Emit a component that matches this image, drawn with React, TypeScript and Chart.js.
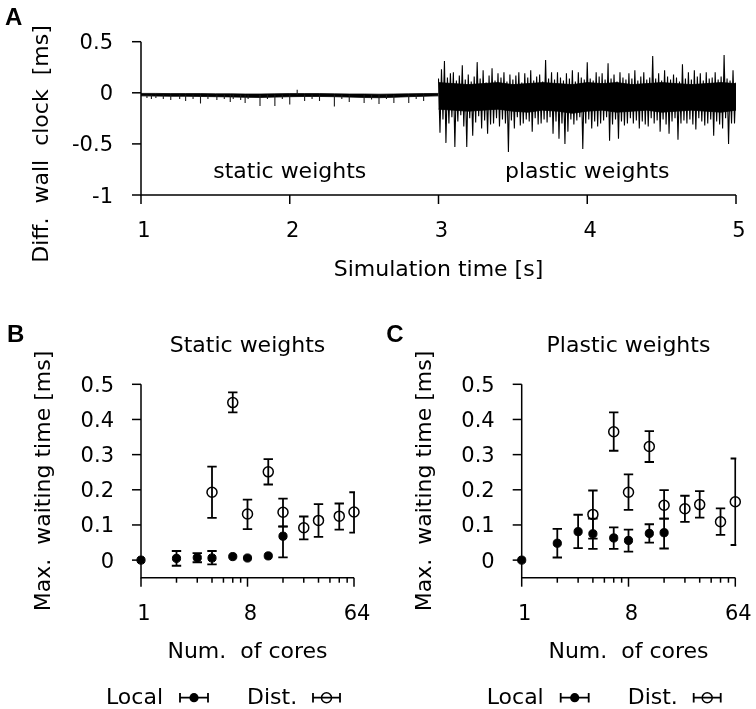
import { useEffect, useRef } from "react";
import { Chart, registerables } from "chart.js";
Chart.register(...registerables);

// ---------- Panel A: wall-clock difference trace ----------
// static phase: dense core (envelope every 0.1 s) plus isolated spikes
const bandStep = 0.1;
const staticStart = 1.0;
const staticBandHigh = [
  -0.006, -0.006, -0.008, -0.008, -0.008, -0.01, -0.01, -0.012, -0.012, -0.01, -0.008,
  -0.008, -0.008, -0.01, -0.012, -0.012, -0.014, -0.012, -0.01, -0.008, -0.006,
];
const staticBandLow = [
  -0.03, -0.032, -0.034, -0.034, -0.036, -0.038, -0.04, -0.044, -0.046, -0.042, -0.038,
  -0.036, -0.036, -0.038, -0.042, -0.046, -0.048, -0.044, -0.038, -0.034, -0.03,
];
const staticSpikeBase = -0.02;
const staticSpikeTimes = [
  1.04, 1.07, 1.1, 1.15, 1.2, 1.26, 1.3, 1.35, 1.4, 1.45,
  1.51, 1.56, 1.6, 1.62, 1.67, 1.7, 1.72, 1.8, 1.85, 1.9,
  1.95, 2.0, 2.05, 2.1, 2.15, 2.2, 2.3, 2.35, 2.4, 2.5,
  2.55, 2.6, 2.65, 2.7, 2.8, 2.85, 2.9,
];
const staticSpikeValues = [
  -0.05, -0.06, -0.05, -0.06, -0.07, -0.06, -0.08, -0.06, -0.105, -0.06,
  -0.07, -0.06, -0.09, -0.06, -0.07, -0.1, -0.06, -0.13, -0.06, -0.13,
  -0.06, -0.115, 0.03, -0.08, -0.06, -0.08, -0.135, -0.06, -0.09, -0.1,
  -0.065, -0.11, -0.06, -0.1, -0.1, -0.06, -0.08,
];
// plastic phase: sampled every 0.01 s
const plasticStart = 3.0;
const plasticStep = 0.01;
const plasticTrace = [
  0.14, -0.39, 0.23, -0.26, 0.31, -0.49, 0.15, -0.3, 0.19, -0.24,
  0.2, -0.53, 0.12, -0.28, 0.17, -0.22, 0.27, -0.33, 0.13, -0.53,
  0.18, -0.25, 0.11, -0.42, 0.16, -0.29, 0.3, -0.23, 0.14, -0.35,
  0.22, -0.27, 0.1, -0.4, 0.17, -0.31, 0.24, -0.3, 0.12, -0.25,
  0.19, -0.33, 0.15, -0.26, 0.2, -0.3, 0.11, -0.58, 0.18, -0.27,
  0.13, -0.35, 0.17, -0.24, 0.2, -0.32, 0.1, -0.3, 0.19, -0.26,
  0.15, -0.28, 0.22, -0.38, 0.12, -0.25, 0.16, -0.31, 0.18, -0.3,
  0.11, -0.26, 0.32, -0.29, 0.14, -0.24, 0.2, -0.4, 0.13, -0.28,
  0.2, -0.45, 0.15, -0.3, 0.12, -0.5, 0.19, -0.38, 0.14, -0.26,
  0.22, -0.31, 0.11, -0.27, 0.2, -0.24, 0.15, -0.55, 0.13, -0.3,
  0.3, -0.26, 0.14, -0.35, 0.12, -0.28, 0.2, -0.33, 0.16, -0.3,
  0.19, -0.27, 0.13, -0.24, 0.29, -0.47, 0.14, -0.31, 0.18, -0.26,
  0.11, -0.45, 0.2, -0.28, 0.15, -0.32, 0.13, -0.3, 0.19, -0.25,
  0.14, -0.3, 0.22, -0.27, 0.12, -0.35, 0.16, -0.28, 0.2, -0.31,
  0.13, -0.33, 0.15, -0.25, 0.36, -0.3, 0.14, -0.27, 0.19, -0.38,
  0.12, -0.26, 0.22, -0.31, 0.16, -0.4, 0.13, -0.28, 0.18, -0.25,
  0.15, -0.46, 0.11, -0.3, 0.28, -0.27, 0.14, -0.3, 0.2, -0.26,
  0.13, -0.31, 0.22, -0.36, 0.16, -0.25, 0.19, -0.28, 0.12, -0.32,
  0.2, -0.3, 0.14, -0.26, 0.15, -0.42, 0.2, -0.28, 0.13, -0.31,
  0.16, -0.35, 0.37, -0.25, 0.14, -0.5, 0.12, -0.3, 0.22, -0.3,
  0.1,
];
const plasticBandHigh = [
  0.1, 0.09, 0.08, 0.09, 0.1, 0.08, 0.09, 0.1, 0.09, 0.08, 0.1,
  0.09, 0.1, 0.08, 0.09, 0.1, 0.09, 0.08, 0.09, 0.1, 0.09,
];
const plasticBandLow = [
  -0.16, -0.17, -0.18, -0.17, -0.16, -0.18, -0.19, -0.17, -0.18, -0.2, -0.18,
  -0.17, -0.19, -0.18, -0.17, -0.19, -0.18, -0.17, -0.18, -0.19, -0.17,
];
const timeTicks = [1, 2, 3, 4, 5];
const diffTicks = [-1, -0.5, 0, 0.5];
const diffTickLabels = ["-1", "-0.5", "0", "0.5"];

// ---------- Panels B and C: max waiting time ----------
const coresLocal = [1, 2, 3, 4, 6, 8, 12, 16];
const coresDist = [4, 6, 8, 12, 16, 24, 32, 48, 64];

const staticLocalMean = [0, 0.005, 0.007, 0.006, 0.01, 0.006, 0.012, 0.068];
const staticLocalLo = [0, -0.016, -0.006, -0.012, 0.01, 0.006, 0.012, 0.008];
const staticLocalHi = [0, 0.026, 0.02, 0.026, 0.01, 0.006, 0.012, 0.096];
const staticDistMean = [0.193, 0.448, 0.131, 0.251, 0.136, 0.092, 0.113, 0.125, 0.137];
const staticDistLo = [0.12, 0.42, 0.088, 0.215, 0.095, 0.059, 0.066, 0.087, 0.078];
const staticDistHi = [0.266, 0.477, 0.172, 0.287, 0.175, 0.124, 0.159, 0.161, 0.193];

const plasticLocalMean = [0, 0.048, 0.081, 0.075, 0.063, 0.056, 0.076, 0.078];
const plasticLocalLo = [0, 0.0075, 0.034, 0.032, 0.032, 0.024, 0.05, 0.033];
const plasticLocalHi = [0, 0.089, 0.129, 0.118, 0.093, 0.087, 0.102, 0.118];
const plasticDistMean = [0.13, 0.365, 0.193, 0.323, 0.156, 0.146, 0.158, 0.109, 0.166];
const plasticDistLo = [0.061, 0.311, 0.143, 0.279, 0.118, 0.109, 0.121, 0.072, 0.043];
const plasticDistHi = [0.198, 0.42, 0.244, 0.367, 0.199, 0.183, 0.196, 0.147, 0.289];

const coreMajorTicks = [1, 8, 64];
const coreMajorLabels = ["1", "8", "64"];
const coreMinorTicks = [2, 3, 4, 5, 6, 7, 16, 24, 32, 40, 48, 56];
const waitTicks = [0, 0.1, 0.2, 0.3, 0.4, 0.5];
const waitTickLabels = ["0", "0.1", "0.2", "0.3", "0.4", "0.5"];

// ---------- styling ----------
const FONT = '"DejaVu Sans", sans-serif';
const TICK_FONT = `21px ${FONT}`;
const LABEL_FONT = `22px ${FONT}`;
const LETTER_FONT = `bold 24px "Liberation Sans", Arial, sans-serif`;
const BAR_W = 1.8;
const CAP = 4.7;

function text(ctx: any, s: string, x: number, y: number, font: string, align: any = "center") {
  ctx.font = font;
  ctx.textAlign = align;
  ctx.textBaseline = "alphabetic";
  ctx.fillText(s, x, y);
}

function vText(ctx: any, s: string, x: number, y: number, font: string) {
  ctx.save();
  ctx.translate(x, y);
  ctx.rotate(-Math.PI / 2);
  text(ctx, s, 0, 0, font, "center");
  ctx.restore();
}

const panelAPlugin = {
  id: "panelA",
  afterDraw(chart: any) {
    const { ctx, chartArea: a, scales } = chart;
    const xs = scales.x, ys = scales.y;
    ctx.save();
    ctx.strokeStyle = "#000";
    ctx.fillStyle = "#000";
    ctx.lineWidth = 1.5;
    ctx.beginPath();
    ctx.moveTo(a.left, a.top);
    ctx.lineTo(a.left, a.bottom);
    ctx.lineTo(a.right, a.bottom);
    ctx.stroke();
    diffTicks.forEach((v, i) => {
      const y = ys.getPixelForValue(v);
      ctx.beginPath();
      ctx.moveTo(a.left - 9, y);
      ctx.lineTo(a.left, y);
      ctx.stroke();
      text(ctx, diffTickLabels[i], a.left - 28, y + 7.5, TICK_FONT, "right");
    });
    timeTicks.forEach((v) => {
      const x = xs.getPixelForValue(v);
      ctx.beginPath();
      ctx.moveTo(x, a.bottom);
      ctx.lineTo(x, a.bottom + 9);
      ctx.stroke();
      text(ctx, String(v), x + 3, a.bottom + 42, TICK_FONT);
    });
    text(ctx, "Simulation time [s]", (a.left + a.right) / 2, a.bottom + 81, LABEL_FONT);
    vText(ctx, "Diff.  wall  clock  [ms]", a.left - 93, 144, LABEL_FONT);
    text(ctx, "static weights", xs.getPixelForValue(2), ys.getPixelForValue(-0.83), LABEL_FONT);
    text(ctx, "plastic weights", xs.getPixelForValue(4), ys.getPixelForValue(-0.83), LABEL_FONT);
    text(ctx, "A", 5, 25, LETTER_FONT, "left");
    ctx.restore();
  },
};

function drawLegendSym(ctx: any, x1: number, x2: number, y: number, filled: boolean) {
  ctx.beginPath();
  ctx.moveTo(x1, y);
  ctx.lineTo(x2, y);
  ctx.moveTo(x1, y - CAP);
  ctx.lineTo(x1, y + CAP);
  ctx.moveTo(x2, y - CAP);
  ctx.lineTo(x2, y + CAP);
  ctx.stroke();
  const cx = (x1 + x2) / 2;
  ctx.beginPath();
  if (filled) {
    ctx.arc(cx, y, 4.6, 0, Math.PI * 2);
    ctx.fill();
  } else {
    ctx.lineWidth = 1.5;
    ctx.arc(cx, y, 5, 0, Math.PI * 2);
    ctx.stroke();
  }
}

function makeWaitPlugin(title: string, letter: string, letterDx: number) {
  return {
    id: "wait" + letter,
    beforeDatasetsDraw(chart: any) {
      const { ctx, chartArea: a, scales } = chart;
      ctx.save();
      ctx.beginPath();
      ctx.rect(0, 0, a.right + 1, chart.height);
      ctx.clip();
      ctx.strokeStyle = "#000";
      ctx.lineWidth = BAR_W;
      chart.data.datasets.forEach((ds: any) => {
        if (!ds.errLo) return;
        ds.data.forEach((p: any, i: number) => {
          const lo = ds.errLo[i], hi = ds.errHi[i];
          if (hi - lo < 0.002) return;
          const x = scales.x.getPixelForValue(p.x);
          const y1 = scales.y.getPixelForValue(lo);
          const y2 = scales.y.getPixelForValue(hi);
          ctx.beginPath();
          ctx.moveTo(x, y1);
          ctx.lineTo(x, y2);
          ctx.moveTo(x - CAP, y1);
          ctx.lineTo(x + CAP, y1);
          ctx.moveTo(x - CAP, y2);
          ctx.lineTo(x + CAP, y2);
          ctx.stroke();
        });
      });
      ctx.restore();
    },
    afterDraw(chart: any) {
      const { ctx, chartArea: a, scales } = chart;
      const xs = scales.x, ys = scales.y;
      ctx.save();
      ctx.strokeStyle = "#000";
      ctx.fillStyle = "#000";
      ctx.lineWidth = 1.5;
      ctx.beginPath();
      ctx.moveTo(a.left, a.top);
      ctx.lineTo(a.left, a.bottom);
      ctx.lineTo(a.right, a.bottom);
      ctx.stroke();
      waitTicks.forEach((v, i) => {
        const y = ys.getPixelForValue(v);
        ctx.beginPath();
        ctx.moveTo(a.left - 9, y);
        ctx.lineTo(a.left, y);
        ctx.stroke();
        text(ctx, waitTickLabels[i], a.left - 27, y + 7.5, TICK_FONT, "right");
      });
      coreMajorTicks.forEach((v, i) => {
        const x = xs.getPixelForValue(v);
        ctx.beginPath();
        ctx.moveTo(x, a.bottom);
        ctx.lineTo(x, a.bottom + 9);
        ctx.stroke();
        text(ctx, coreMajorLabels[i], x + 3, a.bottom + 42, TICK_FONT);
      });
      coreMinorTicks.forEach((v) => {
        const x = xs.getPixelForValue(v);
        ctx.beginPath();
        ctx.moveTo(x, a.bottom);
        ctx.lineTo(x, a.bottom + 5);
        ctx.stroke();
      });
      const cx = (a.left + a.right) / 2;
      text(ctx, title, cx, a.top - 32, LABEL_FONT);
      text(ctx, "Num.  of cores", cx, a.bottom + 80, LABEL_FONT);
      vText(ctx, "Max.  waiting time [ms]", a.left - 91, (a.top + a.bottom) / 2, LABEL_FONT);
      text(ctx, letter, a.left + letterDx, a.top - 42, LETTER_FONT, "left");
      // legend
      const ly = a.bottom + 120;
      const lb = a.bottom + 126;
      text(ctx, "Local", a.left - 35, lb, LABEL_FONT, "left");
      ctx.lineWidth = BAR_W;
      drawLegendSym(ctx, a.left + 39, a.left + 67, ly, true);
      ctx.lineWidth = BAR_W;
      text(ctx, "Dist.", a.left + 106, lb, LABEL_FONT, "left");
      drawLegendSym(ctx, a.left + 172, a.left + 199, ly, false);
      ctx.restore();
    },
  };
}

function waitConfig(
  localMean: number[], localLo: number[], localHi: number[],
  distMean: number[], distLo: number[], distHi: number[],
  padding: any, plugin: any
): any {
  return {
    type: "scatter",
    data: {
      datasets: [
        {
          label: "Dist.",
          data: coresDist.map((c, i) => ({ x: c, y: distMean[i] })),
          errLo: distLo,
          errHi: distHi,
          pointRadius: 5,
          pointBorderWidth: 1.5,
          pointBackgroundColor: "rgba(0,0,0,0)",
          pointBorderColor: "#000",
          clip: false,
        },
        {
          label: "Local",
          data: coresLocal.map((c, i) => ({ x: c, y: localMean[i] })),
          errLo: localLo,
          errHi: localHi,
          pointRadius: 4.1,
          pointBorderWidth: 1,
          pointBackgroundColor: "#000",
          pointBorderColor: "#000",
          clip: false,
        },
      ],
    },
    options: {
      animation: false,
      responsive: false,
      events: [],
      layout: { padding },
      plugins: { legend: { display: false }, tooltip: { enabled: false } },
      scales: {
        x: { type: "logarithmic", display: false, min: 1, max: 64 },
        y: { type: "linear", display: false, min: -0.05, max: 0.5 },
      },
    },
    plugins: [plugin],
  };
}

function series(values: number[], start: number, step: number) {
  return values.map((v, i) => ({ x: start + i * step, y: v }));
}

// each spike: a vertical segment from the base level, separated by gaps
function spikes(times: number[], values: number[], base: number) {
  const out: any[] = [];
  times.forEach((t, i) => {
    out.push({ x: t, y: base }, { x: t, y: values[i] }, { x: t, y: null });
  });
  return out;
}

export default function App() {
  const refA = useRef<HTMLCanvasElement>(null);
  const refB = useRef<HTMLCanvasElement>(null);
  const refC = useRef<HTMLCanvasElement>(null);

  useEffect(() => {
    const bandStyle = { showLine: true, borderWidth: 0.8, pointRadius: 0, backgroundColor: "#000", borderColor: "#000" };
    const chartA = new Chart(refA.current as any, {
      type: "scatter",
      data: {
        datasets: [
          {
            data: spikes(staticSpikeTimes, staticSpikeValues, staticSpikeBase),
            showLine: true,
            spanGaps: false,
            borderColor: "#1a1a1a",
            borderWidth: 1.1,
            pointRadius: 0,
            fill: false,
          },
          {
            data: series(plasticTrace, plasticStart, plasticStep),
            showLine: true,
            borderColor: "#000",
            borderWidth: 1.1,
            pointRadius: 0,
            fill: false,
          },
          { ...bandStyle, data: series(staticBandHigh, staticStart, bandStep), fill: "+1" },
          { ...bandStyle, data: series(staticBandLow, staticStart, bandStep), fill: false },
          { ...bandStyle, data: series(plasticBandHigh, plasticStart, bandStep), fill: "+1" },
          { ...bandStyle, data: series(plasticBandLow, plasticStart, bandStep), fill: false },
        ],
      },
      options: {
        animation: false,
        responsive: false,
        events: [],
        layout: { padding: { left: 141, right: 20, top: 41.7, bottom: 105 } },
        plugins: { legend: { display: false }, tooltip: { enabled: false } },
        scales: {
          x: { type: "linear", display: false, min: 1, max: 5 },
          y: { type: "linear", display: false, min: -1, max: 0.5 },
        },
      },
      plugins: [panelAPlugin],
    } as any);

    const chartB = new Chart(
      refB.current as any,
      waitConfig(
        staticLocalMean, staticLocalLo, staticLocalHi,
        staticDistMean, staticDistLo, staticDistHi,
        { left: 141, right: 24, top: 84.3, bottom: 131.3 },
        makeWaitPlugin("Static weights", "B", -134)
      )
    );
    const chartC = new Chart(
      refC.current as any,
      waitConfig(
        plasticLocalMean, plasticLocalLo, plasticLocalHi,
        plasticDistMean, plasticDistLo, plasticDistHi,
        { left: 143.7, right: 20.7, top: 84.3, bottom: 131.3 },
        makeWaitPlugin("Plastic weights", "C", -135.5)
      )
    );
    return () => {
      chartA.destroy();
      chartB.destroy();
      chartC.destroy();
    };
  }, []);

  return (
    <div style={{ position: "absolute", left: 0, top: 0, width: 756, height: 709, background: "#fff" }}>
      <canvas ref={refA} width={756} height={300} style={{ position: "absolute", left: 0, top: 0 }} />
      <canvas ref={refB} width={378} height={409} style={{ position: "absolute", left: 0, top: 300 }} />
      <canvas ref={refC} width={378} height={409} style={{ position: "absolute", left: 378, top: 300 }} />
    </div>
  );
}
